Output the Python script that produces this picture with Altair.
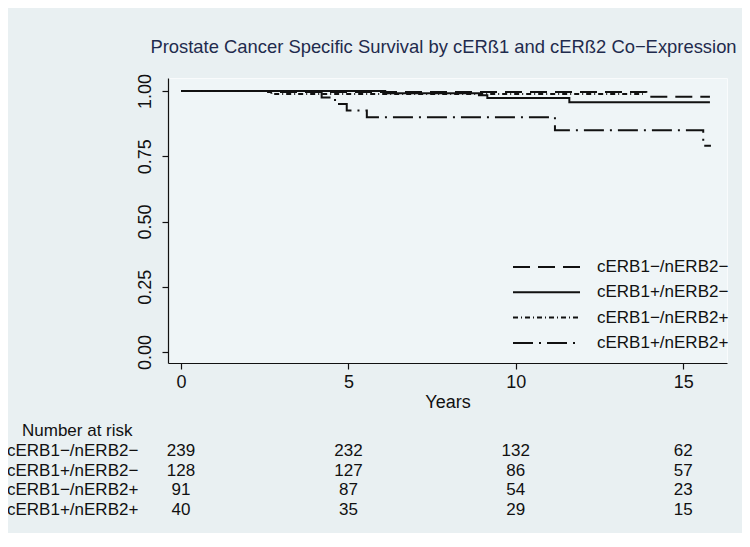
import altair as alt
import pandas as pd

# ---------------- data ----------------
groups = ["cERB1−/nERB2−", "cERB1+/nERB2−", "cERB1−/nERB2+", "cERB1+/nERB2+"]

t_a = [0, 2.6, 13.9, 15.8]
s_a = [1.0, 0.996, 0.978, 0.978]
t_b = [0, 6.1, 8.9, 9.15, 11.6, 15.8]
s_b = [1.0, 0.992, 0.984, 0.973, 0.957, 0.957]
t_c = [0, 2.7, 13.8]
s_c = [1.0, 0.989, 0.989]
t_d = [0, 4.2, 4.6, 4.95, 5.55, 11.17, 15.6, 15.83]
s_d = [1.0, 0.975, 0.95, 0.925, 0.90, 0.85, 0.79, 0.79]

risk_times = [0, 5, 10, 15]
risk_a = [239, 232, 132, 62]
risk_b = [128, 127, 86, 57]
risk_c = [91, 87, 54, 23]
risk_d = [40, 35, 29, 15]

x_ticks = [0, 5, 10, 15]
y_ticks = [0, 0.25, 0.5, 0.75, 1.0]

title_text = "Prostate Cancer Specific Survival by cERß1 and cERß2 Co−Expression"
x_title = "Years"
risk_header = "Number at risk"

# ---------------- styles ----------------
FONT = "Liberation Sans, Arial, sans-serif"
dashes = [[17, 8], [1, 0], [5, 3, 1, 3], [20, 6, 2, 6]]
W, H = 559, 285

curves = pd.concat([
    pd.DataFrame({"t": t, "s": s, "group": g})
    for t, s, g in zip([t_a, t_b, t_c, t_d], [s_a, s_b, s_c, s_d], groups)
])

xscale = alt.Scale(domain=[-0.39, 16.31], nice=False, zero=False)
yscale = alt.Scale(domain=[-0.042, 1.05], nice=False, zero=False)
dash_scale = alt.Scale(domain=groups, range=dashes)

lines = alt.Chart(curves).mark_line(
    interpolate="step-after", strokeWidth=2, color="#111111"
).encode(
    x=alt.X("t:Q", scale=xscale,
            axis=alt.Axis(values=x_ticks, title=x_title, grid=False,
                          format="d", tickSize=6, labelPadding=4,
                          titlePadding=2)),
    y=alt.Y("s:Q", scale=yscale,
            axis=alt.Axis(values=y_ticks, title=None, grid=False,
                          format=".2f", tickSize=6, labelAngle=270,
                          labelAlign="center", labelBaseline="bottom",
                          labelPadding=8)),
    strokeDash=alt.StrokeDash("group:N", scale=dash_scale, legend=None),
    detail="group:N",
)

layers = [lines]

# legend inside the plot
leg_x1, leg_x2, leg_tx = 513 - 168, 580 - 168, 597 - 168
leg_y0, leg_dy = 267 - 78, 25.3
for i, g in enumerate(groups):
    py = leg_y0 + i * leg_dy
    d = pd.DataFrame({"g": [g]})
    layers.append(alt.Chart(d).mark_rule(strokeDash=dashes[i], strokeWidth=2,
                                         color="#111111").encode(
        x=alt.value(leg_x1), x2=alt.value(leg_x2), y=alt.value(py)))
    layers.append(alt.Chart(d).mark_text(align="left", baseline="middle",
                                         fontSize=17, font=FONT,
                                         color="#111111").encode(
        x=alt.value(leg_tx), y=alt.value(py), text="g:N"))

# risk table
risk_rows = [risk_a, risk_b, risk_c, risk_d]
rt_y0, rt_dy = 451 - 78, 19.7
layers.append(alt.Chart(pd.DataFrame({"h": [risk_header]})).mark_text(
    align="left", baseline="middle", fontSize=17, font=FONT, color="#111111"
).encode(x=alt.value(22 - 168), y=alt.value(431 - 78), text="h:N"))
for i, (g, r) in enumerate(zip(groups, risk_rows)):
    py = rt_y0 + i * rt_dy
    d = pd.DataFrame({"t": risk_times, "n": r, "g": g})
    layers.append(alt.Chart(d).mark_text(
        align="center", baseline="middle", fontSize=17, font=FONT,
        color="#111111").encode(
        x=alt.X("t:Q", scale=xscale), y=alt.value(py), text="n:Q"))
    layers.append(alt.Chart(pd.DataFrame({"g": [g]})).mark_text(
        align="left", baseline="middle", fontSize=17, font=FONT,
        color="#111111").encode(
        x=alt.value(7 - 168), y=alt.value(py), text="g:N"))

chart = alt.layer(*layers).properties(
    width=W, height=H,
    title=alt.TitleParams(title_text, fontSize=18.4, font=FONT,
                          fontWeight="normal", color="#1f2b4d",
                          anchor="middle", offset=17, dx=-4),
    background="#e9f0f2",
    padding={"left": 160, "top": 70, "right": 15, "bottom": 170},
    autosize=alt.AutoSizeParams(type="none"),
).configure_view(
    fill="#eff5f7", stroke="#f9fbfc", strokeWidth=1
).configure_axis(
    domainColor="#111111", tickColor="#111111", labelColor="#111111",
    titleColor="#111111", labelFont=FONT, titleFont=FONT,
    labelFontSize=18, titleFontSize=18, titleFontWeight="normal",
    domainWidth=1.2, tickWidth=1.2,
)

chart.save("out.html", embed_options={"renderer": "svg", "actions": False})
